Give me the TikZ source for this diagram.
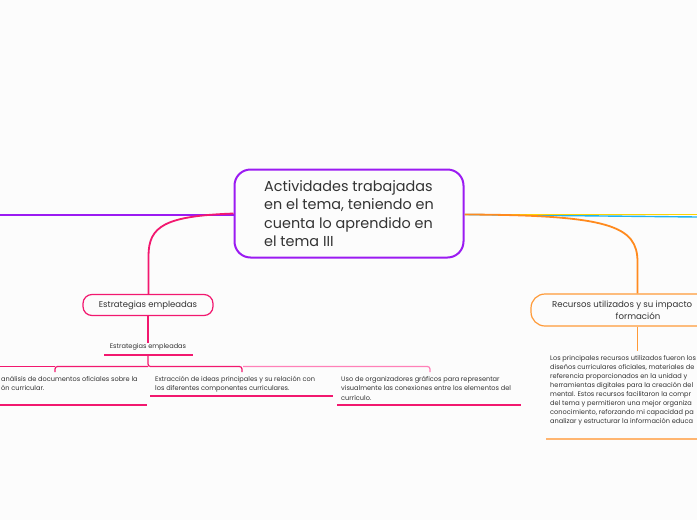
\documentclass[tikz,border=0pt]{standalone}
\usepackage{fontspec}
\setmainfont{Poppins}
\definecolor{mpurple}{HTML}{9B1BF2}
\definecolor{mpink}{HTML}{F2186F}
\definecolor{lpink}{HTML}{FF80B8}
\definecolor{morange}{HTML}{FF8A1E}
\definecolor{borange}{HTML}{FF9A38}
\definecolor{lorange}{HTML}{FFB570}
\definecolor{myellow}{HTML}{FFD400}
\definecolor{mcyan}{HTML}{1EB4F0}
\definecolor{mtext}{HTML}{333333}
\definecolor{mbg}{HTML}{FCFCFC}
\tikzset{
  central/.style={draw=mpurple, line width=2pt, rounded corners=16pt, minimum width=229pt, minimum height=88pt, align=left, inner sep=0pt, text=mtext, font=\fontsize{14.4}{18.3}\selectfont},
  pinkbox/.style={draw=mpink, line width=1.2pt, rounded corners=9pt, minimum width=130pt, minimum height=21pt, inner sep=0pt, text=mtext, font=\fontsize{8.5}{10}\selectfont},
  orangebox/.style={draw=borange, line width=1.2pt, rounded corners=14pt, minimum width=214pt, minimum height=32pt, inner sep=0pt},
  boxtext/.style={inner sep=0pt, text=mtext, font=\fontsize{8.6}{10}\selectfont},
  small/.style={inner sep=0pt, text=mtext, font=\fontsize{6.6}{8}\selectfont},
  leaf/.style={inner sep=0pt, text=mtext, align=left, font=\fontsize{6.6}{9.2}\selectfont},
  para/.style={inner sep=0pt, text=mtext, align=left, font=\fontsize{6.6}{9.0}\selectfont},
  branch/.style={line width=1.8pt},
  uline/.style={line width=1.1pt},
}
\begin{document}
\begin{tikzpicture}[x=1pt,y=-1pt]
\useasboundingbox (0,0) rectangle (697,520);
\clip (0,0) rectangle (697,520);
\fill[mbg] (0,0) rectangle (697,520);

% central node
\node[central] (c) at (349,213.5) {Actividades trabajadas\\en el tema, teniendo en\\cuenta lo aprendido en\\el tema III};

% outer lines
\coordinate (lft) at (0,214.5);
\coordinate (ry) at (697,214.5);
\coordinate (rc) at (697,217);
\draw[branch, mpurple, line width=2pt] (lft) -- (c.west |- lft);
\draw[branch, mcyan, line width=1.4pt] (c.east |- ry) -- (rc);
\draw[branch, myellow, line width=1.6pt] (c.east |- ry) -- (ry);

% Estrategias branch
\node[pinkbox] (est) at (148,305) {Estrategias empleadas};
\draw[branch, mpink] ([yshift=1pt]c.west |- lft) .. controls (165,216) and (148.5,226) .. (148.5,256) -- (est.north -| 148.5,0);

\node[small] (lab) at (148,347) {Estrategias empleadas};
\coordinate (ula) at (104,355);
\coordinate (ulb) at (193,355);
\draw[uline, mpink] (ula) -- (ulb);
\draw[line width=1.2pt, mpink] (est.south) -- (lab.north);
\coordinate (hub) at (148,355);
\coordinate (hl) at (0,366.5);
\draw[line width=1.2pt, mpink, rounded corners=2.5pt] (hub) -- (148,366.5) -- (242,366.5) -- (242,372);
\draw[line width=1.2pt, mpink, rounded corners=2.5pt] (148,366.5) -- (55,366.5) -- (55,372);
\draw[line width=1.2pt, mpink] (55,366.5) -- (hl);
\draw[line width=1.2pt, lpink, rounded corners=2.5pt] (243,366.5) -- (430,366.5) -- (430,372);

% leaves
\node[leaf, anchor=north west] (l1) at (1,376.3) {análisis de documentos oficiales sobre la\\ón curricular.};
\node[leaf, anchor=north west] (l2) at (155,376.3) {Extracción de ideas principales y su relación con\\los diferentes componentes curriculares.};
\node[leaf, anchor=north west] (l3) at (341,376.3) {Uso de organizadores gráficos para representar\\visualmente las conexiones entre los elementos del\\currículo.};
\coordinate (u1a) at (0,405); \coordinate (u1b) at (147,405);
\coordinate (u2a) at (150,396); \coordinate (u2b) at (333,396);
\coordinate (u3a) at (337,405); \coordinate (u3b) at (521,405);
\draw[uline, mpink] (u1a) -- (u1b);
\draw[uline, mpink] (u2a) -- (u2b);
\draw[uline, mpink] (u3a) -- (u3b);

% Recursos branch
\node[orangebox] (rec) at (638,310) {};
\node[boxtext, anchor=base west] (rec1) at (552,307) {Recursos utilizados y su impacto};
\node[boxtext, anchor=base] (rec2) at (638,319) {formación};
\draw[branch, morange] (c.east |- ry) .. controls (610,215) and (637.5,226) .. (637.5,262) -- (rec.north -| 637.5,0);
\coordinate (pt) at (637.5,351);
\draw[line width=1.6pt, borange] (rec.south -| pt) -- (pt);
\node[para, anchor=north west] (par) at (550,355) {Los principales recursos utilizados fueron los\\diseños curriculares oficiales, materiales de\\referencia proporcionados en la unidad y\\herramientas digitales para la creación del\\mental. Estos recursos facilitaron la compr\\del tema y permitieron una mejor organiza\\conocimiento, reforzando mi capacidad pa\\analizar y estructurar la información educa};
\coordinate (u4a) at (546,439); \coordinate (u4b) at (697,439);
\draw[line width=1.4pt, lorange] (u4a) -- (u4b);
\end{tikzpicture}
\end{document}
